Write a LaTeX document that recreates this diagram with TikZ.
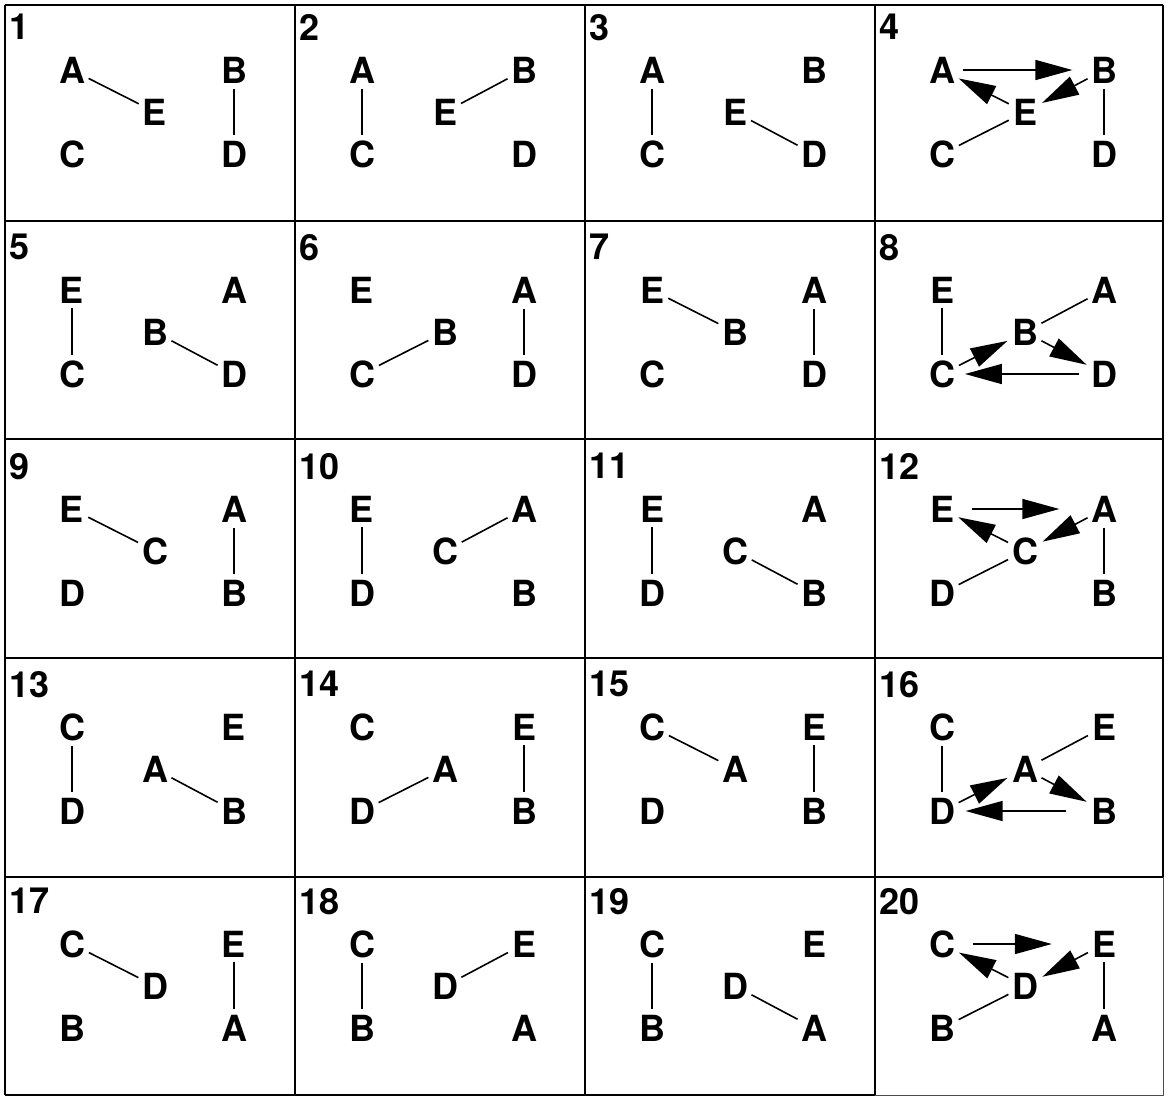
\documentclass[tikz,border=0pt]{standalone}
\usepackage{fontspec}
\setmainfont{TeX Gyre Heros}
\usetikzlibrary{arrows.meta}
\tikzset{
  lbl/.style={circle, inner sep=0pt, minimum size=36pt, font=\fontsize{36}{36}\selectfont\bfseries},
  num/.style={anchor=north west, inner sep=0pt, font=\fontsize{36}{36}\selectfont\bfseries},
  edge/.style={line width=1.6pt},
  arr/.style={line width=1.6pt, shorten >=1pt, -{Triangle[length=37pt,width=20pt]}},
  gridline/.style={line width=2pt},
  thingrid/.style={line width=1pt, draw=black!70}
}
% #1 number, #2 x offset, #3 top row y, #4 TL, #5 TR, #6 BL, #7 BR, #8 middle
\newcommand\gcell[8]{%
  \node[lbl] (n#1#4) at (72+#2, #3) {#4};
  \node[lbl] (n#1#5) at (234+#2, #3) {#5};
  \node[lbl] (n#1#6) at (72+#2, #3+84) {#6};
  \node[lbl] (n#1#7) at (234+#2, #3+84) {#7};
  \node[lbl] (n#1#8) at (155+#2, #3+42) {#8};
  \node[num] (t#1) at (9+#2, #3-56) {#1};
}
\begin{document}
\begin{tikzpicture}[x=1pt,y=-1pt]
\useasboundingbox (0,0) rectangle (1169,1101);
% grid
\draw[gridline] (5,5) -- (1163,5);
\foreach \yy in {221,439,658,877} \draw[gridline] (5,\yy) -- (1163,\yy);
\draw[gridline] (5,1095) -- (875,1095);
\draw[gridline] (5,5) -- (5,1095);
\foreach \xx in {295,585,875} \draw[gridline] (\xx,5) -- (\xx,1095);
\draw[gridline] (1163,5) -- (1163,877);
\draw[thingrid] (1163,877) -- (1163,1095) -- (875,1095);

% row 1
\gcell{1}{0}{70}{A}{B}{C}{D}{E}
\gcell{2}{290}{70}{A}{B}{C}{D}{E}
\gcell{3}{580}{70}{A}{B}{C}{D}{E}
\gcell{4}{870}{70}{A}{B}{C}{D}{E}
% row 2
\gcell{5}{0}{290}{E}{A}{C}{D}{B}
\gcell{6}{290}{290}{E}{A}{C}{D}{B}
\gcell{7}{580}{290}{E}{A}{C}{D}{B}
\gcell{8}{870}{290}{E}{A}{C}{D}{B}
% row 3
\gcell{9}{0}{509}{E}{A}{D}{B}{C}
\gcell{10}{290}{509}{E}{A}{D}{B}{C}
\gcell{11}{580}{509}{E}{A}{D}{B}{C}
\gcell{12}{870}{509}{E}{A}{D}{B}{C}
% row 4
\gcell{13}{0}{727}{C}{E}{D}{B}{A}
\gcell{14}{290}{727}{C}{E}{D}{B}{A}
\gcell{15}{580}{727}{C}{E}{D}{B}{A}
\gcell{16}{870}{727}{C}{E}{D}{B}{A}
% row 5
\gcell{17}{0}{944}{C}{E}{B}{A}{D}
\gcell{18}{290}{944}{C}{E}{B}{A}{D}
\gcell{19}{580}{944}{C}{E}{B}{A}{D}
\gcell{20}{870}{944}{C}{E}{B}{A}{D}

% edges
\draw[edge] (n1A) -- (n1E); \draw[edge] (n1B) -- (n1D);
\draw[edge] (n2A) -- (n2C); \draw[edge] (n2E) -- (n2B);
\draw[edge] (n3A) -- (n3C); \draw[edge] (n3E) -- (n3D);
\draw[arr, shorten <=2pt, shorten >=13pt] (n4A) -- (n4B);
\draw[arr] (n4B) -- (n4E); \draw[arr, shorten >=0pt] (n4E) -- (n4A);
\draw[edge] (n4C) -- (n4E); \draw[edge] (n4B) -- (n4D);

\draw[edge] (n5E) -- (n5C); \draw[edge] (n5B) -- (n5D);
\draw[edge] (n6C) -- (n6B); \draw[edge] (n6A) -- (n6D);
\draw[edge] (n7E) -- (n7B); \draw[edge] (n7A) -- (n7D);
\draw[edge] (n8E) -- (n8C); \draw[edge] (n8B) -- (n8A);
\draw[arr] (n8C) -- (n8B); \draw[arr] (n8B) -- (n8D);
\draw[arr, shorten <=6pt, shorten >=4pt] (n8D) -- (n8C);

\draw[edge] (n9E) -- (n9C); \draw[edge] (n9A) -- (n9B);
\draw[edge] (n10E) -- (n10D); \draw[edge] (n10C) -- (n10A);
\draw[edge] (n11E) -- (n11D); \draw[edge] (n11C) -- (n11B);
\draw[arr, shorten <=12pt, shorten >=26pt] (n12E) -- (n12A);
\draw[arr] (n12A) -- (n12C); \draw[arr, shorten >=0pt] (n12C) -- (n12E);
\draw[edge] (n12D) -- (n12C); \draw[edge] (n12A) -- (n12B);

\draw[edge] (n13C) -- (n13D); \draw[edge] (n13A) -- (n13B);
\draw[edge] (n14D) -- (n14A); \draw[edge] (n14E) -- (n14B);
\draw[edge] (n15C) -- (n15A); \draw[edge] (n15E) -- (n15B);
\draw[edge] (n16C) -- (n16D); \draw[edge] (n16A) -- (n16E);
\draw[arr] (n16D) -- (n16A); \draw[arr] (n16A) -- (n16B);
\draw[arr, shorten <=19pt, shorten >=5pt] (n16B) -- (n16D);

\draw[edge] (n17C) -- (n17D); \draw[edge] (n17E) -- (n17A);
\draw[edge] (n18C) -- (n18B); \draw[edge] (n18D) -- (n18E);
\draw[edge] (n19C) -- (n19B); \draw[edge] (n19D) -- (n19A);
\draw[arr, shorten <=12pt, shorten >=34pt] (n20C) -- (n20E);
\draw[arr] (n20E) -- (n20D); \draw[arr, shorten >=0pt] (n20D) -- (n20C);
\draw[edge] (n20B) -- (n20D); \draw[edge] (n20E) -- (n20A);
\end{tikzpicture}
\end{document}
